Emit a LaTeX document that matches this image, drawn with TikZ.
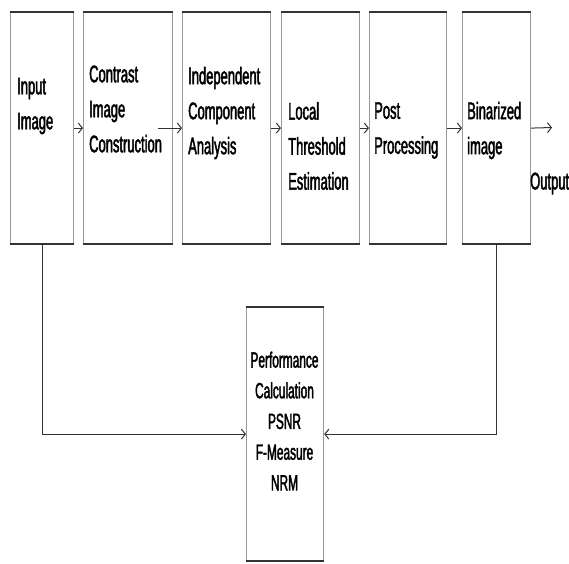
\documentclass[tikz,border=0pt]{standalone}
\usepackage{fontspec}
\setmainfont{Liberation Sans}[FakeStretch=0.54,FakeBold=1.8]
\usetikzlibrary{arrows,arrows.meta}

\begin{document}
\begin{tikzpicture}[x=1pt,y=-1pt]
	\definecolor{color1}{gray}{0.6}
	\definecolor{color2}{gray}{0.2}
	\tikzset{stage/.style={draw=color1, line width=1.2pt, inner sep=0pt, anchor=north west,
		append after command={(\tikzlastnode.north west) edge[color2,line width=1.8pt] (\tikzlastnode.north east)
			(\tikzlastnode.south west) edge[color2,line width=1.8pt] (\tikzlastnode.south east)}},
		stagetext/.style={inner sep=0pt, align=left, anchor=west, font=\fontsize{24}{35}\selectfont},
		flow/.style={-{Straight Barb[length=4pt,width=10pt]}, draw=color2, line width=1pt}}
	\useasboundingbox (0,0) rectangle (569,563);
	%% Boxes ------
	\node[stage, minimum width=63pt, minimum height=231pt] (b1) at (10,12) {};
	\node[stage, minimum width=89pt, minimum height=231pt] (b2) at (83,12) {};
	\node[stage, minimum width=88pt, minimum height=231pt] (b3) at (182,12) {};
	\node[stage, minimum width=78pt, minimum height=231pt] (b4) at (281,12) {};
	\node[stage, minimum width=77pt, minimum height=231pt] (b5) at (369,12) {};
	\node[stage, minimum width=68pt, minimum height=231pt] (b6) at (462,12) {};
	\node[stage, minimum width=77pt, minimum height=253pt] (perf) at (246,307) {};
	%% Texts ------
	\node[stagetext] (t1) at (17,106) {Input\\Image};
	\node[stagetext] (t2) at (89,109) {Contrast\\Image\\Construction};
	\node[stagetext] (t3) at (188,113) {Independent\\Component\\Analysis};
	\node[stagetext] (t4) at (288,146) {Local\\Threshold\\Estimation};
	\node[stagetext] (t5) at (374,130.5) {Post\\Processing};
	\node[stagetext] (t6) at (467,130.5) {Binarized\\image};
	\node[stagetext] (tout) at (530,183.5) {Output};
	\node[inner sep=0pt, align=center, font=\fontsize{22}{30.7}\selectfont] (tperf) at (284.5,421)
		{Performance\\Calculation\\PSNR\\F-Measure\\NRM};
	%% Arrows ------
	\coordinate (out) at (552,127.5);
	\draw[flow] (b1.east) -- (b2.west);
	\draw[flow] ([xshift=-15pt]b2.east) -- (b3.west);
	\draw[flow] (b3.east) -- (b4.west);
	\draw[flow] (b4.east) -- (b5.west);
	\draw[flow] (b5.east) -- (b6.west);
	\draw[flow] (b6.east) -- (out);
	\draw[flow] (b1.south) |- (perf.west);
	\draw[flow] (b6.south) |- (perf.east);
\end{tikzpicture}
\end{document}
